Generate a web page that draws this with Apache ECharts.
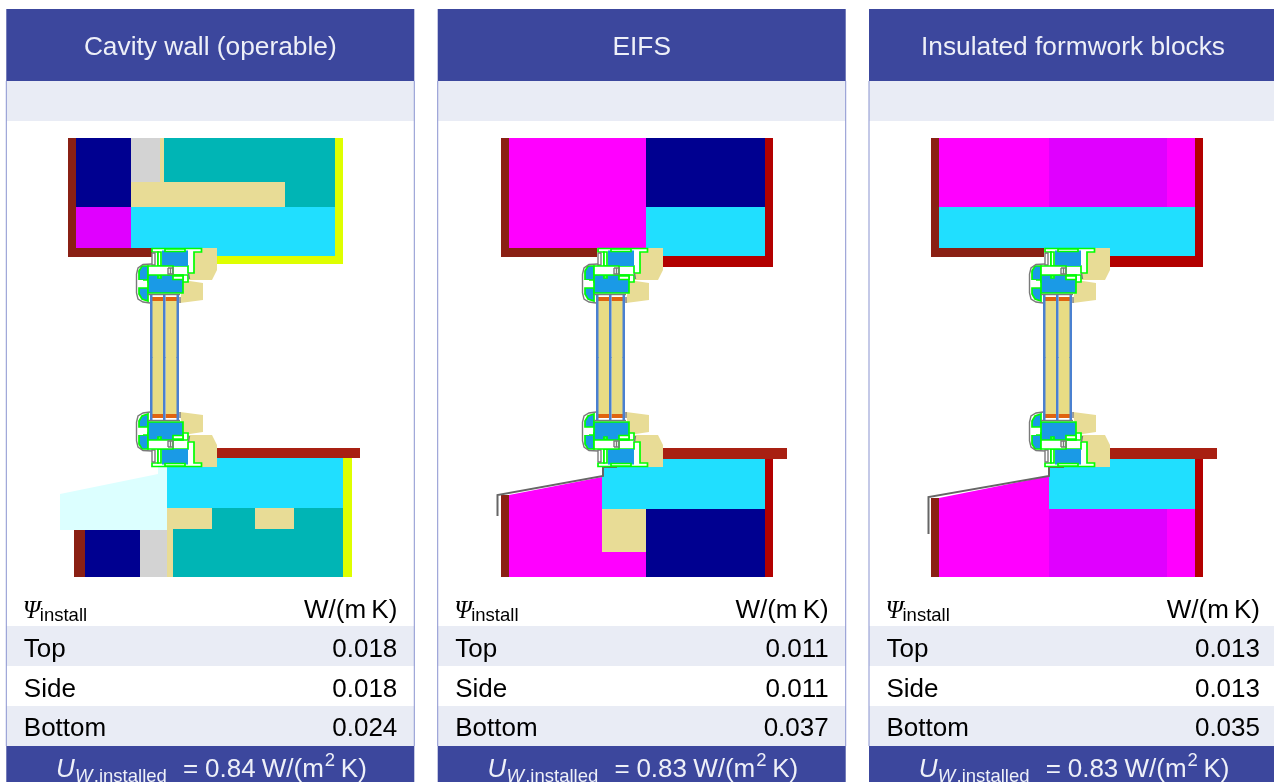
<!DOCTYPE html>
<html><head><meta charset="utf-8">
<style>html,body{margin:0;padding:0;background:#fff;overflow:hidden}#c{width:1274px;height:782px}</style>
<script src="https://cdn.jsdelivr.net/npm/echarts@6/dist/echarts.min.js"></script>
</head><body><div id="c"></div>
<script>
// ---- values and labels ----
const panelTitles = ['Cavity wall (operable)', 'EIFS', 'Insulated formwork blocks'];
const rowLabels = ['Top', 'Side', 'Bottom'];
const psiTop = ['0.018', '0.011', '0.013'];
const psiSide = ['0.018', '0.011', '0.013'];
const psiBottom = ['0.024', '0.037', '0.035'];
const uInstalled = ['0.84', '0.83', '0.83'];
const psiUnit = 'W/(m\u2009K)';

// ---- drawing geometry, in the reference's section coordinates: [material, x0,y0, x1,y1, ...] ----
const cavitySection = [
  ['brown',68,138,76,257], ['brown',76,248,152,257],
  ['navy',76,138,131,207], ['grey',131,138,160,182], ['tan',160,138,164,182],
  ['teal',164,138,335,182], ['teal',285,182,335,207], ['tan',131,182,285,207],
  ['violet',76,207,131,248], ['cyan',131,207,335,248], ['cyan',190,248,335,256],
  ['yellow',335,138,343,264], ['yellow',217,256,343,264],
  ['rust',216,448,360,458], ['cyan',199,458,343,467], ['cyan',167,467,343,508],
  ['yellow',343,458,352,577],
  ['ice',60,494,158,474,158,467,167,467,167,530,60,530],
  ['brown',74,530,85,577], ['navy',85,530,140,577], ['grey',140,530,167,577],
  ['teal',167,508,343,577], ['tan',167,529,173,577], ['tan',167,508,212,529], ['tan',255,508,294,529]
];
const eifsSection = [
  ['brown',501,138,509,257], ['brown',509,248,597,257],
  ['magenta',509,138,646,248], ['navy',646,138,765,207], ['cyan',646,207,765,256],
  ['red',765,138,773,267], ['red',663,256,773,267],
  ['rust',663,448,787,459], ['cyan',645,459,765,467], ['cyan',602,467,765,509],
  ['red',765,459,773,577], ['navy',646,509,765,577], ['tan',602,509,646,552],
  ['magenta',509,495,602,477,602,552,646,552,646,577,509,577],
  ['brown',501,495,509,495,509,577,501,577],
  ['steel',497.5,516,497.5,495,603,476,603,467,617,467]
];
const formworkSection = [
  ['brown',931,138,939,257], ['brown',939,248,1044,257],
  ['magenta',939,138,1195,207], ['violet',1049,138,1167,207],
  ['cyan',939,207,1195,248], ['cyan',1090,248,1195,256],
  ['red',1195,138,1203,267], ['red',1110,256,1203,267],
  ['rust',1110,448,1217,459], ['cyan',1090,459,1195,467], ['cyan',1049,467,1195,509],
  ['red',1195,459,1203,577], ['violet',1049,509,1167,577], ['magenta',1167,509,1195,577],
  ['magenta',939,498,1049,476,1049,577,939,577],
  ['brown',931,498,939,498,939,577,931,577],
  ['steel',928.5,534,928.5,497,1049,476,1049,467,1064,467]
];
// upper half of the window; the lower half is its reflection about the glazing centre
const windowCentreSum = 715;
const windowOffsets = [0, 446, 893];
const windowHalf = [
  ['tan',193,248,217,248,217,270,212,280,188,280],
  ['tan',183,280,203,283,203,300,180,303],
  ['frame',152,248.5,201.5,248.5,201.5,252,194,252,194,273,188,273,188,266,158,266,158,252,152,252],
  ['frame',158,252,161,252,161,266,158,266],
  ['blue',162,250.5,188,250.5,188,266,162,266],
  ['frame',165,249,185,249,185,251.5,165,251.5],
  ['line',152,253,155,253,155,265,152,265,152,253],
  ['blueFrame',148,266,142,266,139,271,139,280,148,280],
  ['white',137,280,143,280,143,288,137,288],
  ['blueFrame',139,288,148,288,148,301,142,299,139,294],
  ['line',152,264,143,264.5,138,268,136.5,274,136.5,293,138,299,143,302,150,303],
  ['frame',148,266,173,266,173,275,188,275,188,282,148,282],
  ['blueFrame',148,275,183,275,183,293,148,293],
  ['frame',158,276,161,276,161,278,158,278],
  ['frame',173,276,183,276,183,279.5,173,279.5],
  ['line',168,268,173,268,173,274,168,274,168,268],
  ['line',170.5,268,170.5,274],
  ['line',188.5,273,189.5,279],
  ['line',180,297,180,303],
  ['line',148,294.5,180,294.5],
  ['pane',152,301,163.5,358],
  ['pane',165.5,301,177,358],
  ['orange',152,297,163.5,301],
  ['orange',165.5,297,177,301],
  ['glassBar',150,295,152.5,358],
  ['glassBar',163,295,165.5,358],
  ['glassBar',176.5,295,179,358]
];
// ---- styles ----
const materials = {
  brown:{fill:'#8a2014'}, rust:{fill:'#a82012'}, red:{fill:'#b20000'},
  navy:{fill:'#000090'}, grey:{fill:'#d3d3d3'}, tan:{fill:'#e8dc96'},
  teal:{fill:'#00b5b5'}, violet:{fill:'#e000ff'}, magenta:{fill:'#ff00ff'},
  cyan:{fill:'#20dfff'}, yellow:{fill:'#deff00'}, ice:{fill:'#dcffff'},
  steel:{fill:'none',stroke:'#666666',lineWidth:2},
  frame:{fill:'#ffffff',stroke:'#00ff00',lineWidth:1.7},
  blue:{fill:'#1a9ae6'}, blueFrame:{fill:'#1a9ae6',stroke:'#00ff00',lineWidth:1.7},
  white:{fill:'#ffffff'}, line:{fill:'none',stroke:'#7a7a7a',lineWidth:1.4},
  pane:{fill:'#e8dc84'}, orange:{fill:'#e0640f'}, glassBar:{fill:'#4a80d0'}
};
const headerColor = '#3c479d', bandColor = '#e9ecf5', borderColor = '#8a93d0', headText = '#eef0f8';
const panelLeft = [6.3, 437.7, 869], panelWidth = 408;

// ---- build draw lists ----
const bands = [];
panelLeft.forEach(l => {
  [[9,81,headerColor],[81,121,bandColor],[626,666,bandColor],[706,746,bandColor],[746,782,headerColor]]
    .forEach(b => bands.push([l, b[0], l + panelWidth, b[1], b[2]]));
  bands.push([l - 0.5, 81, l + 0.5, 746, borderColor]);
  bands.push([l + panelWidth - 0.5, 81, l + panelWidth + 0.5, 746, borderColor]);
});
const shapes = [];
[cavitySection, eifsSection, formworkSection].forEach((sec, i) => {
  sec.forEach(s => shapes.push(s));
  windowHalf.forEach(p => {
    const up = p.slice(), down = p.slice();
    for (let k = 1; k < p.length; k += 2) {
      up[k] = p[k] + windowOffsets[i];
      down[k] = p[k] + windowOffsets[i];
      down[k + 1] = windowCentreSum - p[k + 1];
    }
    shapes.push(up); shapes.push(down);
  });
});
const SANS = '"Liberation Sans",Arial,sans-serif';
const texts = [];
function T(text, x, y, size, opt) {
  opt = opt || {};
  texts.push({text, x, y, font:(opt.style||'normal') + ' ' + size + 'px ' + (opt.family||SANS), align:opt.align||'left', fill:opt.fill||'#000'});
}
panelLeft.forEach((l, i) => {
  const right = l + 391;
  T(panelTitles[i], l + panelWidth / 2, 48, 26.3, {align:'center', fill:headText});
  T('\u03A8', l + 16.5, 611, 25, {style:'italic', family:'"Liberation Serif",serif'});
  T('install', l + 33.5, 615.5, 18.5);
  T(psiUnit, right, 611, 26, {align:'right'});
  [psiTop, psiSide, psiBottom].forEach((col, r) => {
    const y = 650 + r * 39.5;
    T(rowLabels[r], l + 17.5, y, 26);
    T(col[i], right, y, 26, {align:'right'});
  });
  T('U', l + 49.7, 770, 26, {style:'italic', fill:headText});
  T('W', l + 68.7, 777, 18.5, {style:'italic', fill:headText});
  T(',installed', l + 87.5, 777, 18.5, {fill:headText});
  T('=', l + 176.7, 770, 26, {fill:headText});
  T(uInstalled[i], l + 198.7, 770, 26, {fill:headText});
  T('W/(m', l + 255.5, 770, 26, {fill:headText});
  T('2', l + 318.5, 761, 18.5, {fill:headText});
  T('K)', l + 334.5, 770, 26, {fill:headText});
});

function polyItem(list) {
  return function (params, api) {
    const s = list[params.dataIndex], m = materials[s[0]], pts = [];
    for (let k = 1; k < s.length; k += 2) pts.push(api.coord([s[k], s[k + 1]]));
    const style = {fill: m.fill === 'none' ? null : m.fill, stroke: m.stroke || null, lineWidth: m.lineWidth || 0};
    if (pts.length === 2) {
      if (m.fill === 'none') return {type:'polyline', shape:{points:pts}, style};
      return {type:'rect', shape:{x:pts[0][0], y:Math.min(pts[0][1],pts[1][1]), width:pts[1][0]-pts[0][0], height:Math.abs(pts[1][1]-pts[0][1])}, style};
    }
    if (m.fill === 'none') return {type:'polyline', shape:{points:pts}, style};
    return {type:'polygon', shape:{points:pts}, style};
  };
}
const chart = echarts.init(document.getElementById('c'), null, {renderer:'canvas'});
chart.setOption({
  animation:false,
  backgroundColor:'#ffffff',
  grid:{left:0, right:0, top:0, bottom:0},
  xAxis:{type:'value', min:0, max:1274, show:false},
  yAxis:{type:'value', min:0, max:782, inverse:true, show:false},
  tooltip:{show:false},
  series:[
    {type:'custom', silent:true, coordinateSystem:'cartesian2d', z:1, clip:true,
     data:bands.map(b => [b[0], b[1]]), encode:{x:0, y:1},
     renderItem:(p, api) => {
       const b = bands[p.dataIndex], a = api.coord([b[0], b[1]]), c = api.coord([b[2], b[3]]);
       return {type:'rect', shape:{x:a[0], y:a[1], width:c[0]-a[0], height:c[1]-a[1]}, style:{fill:b[4]}};
     }},
    {type:'custom', silent:true, coordinateSystem:'cartesian2d', z:2, clip:true,
     data:shapes.map(s => [s[1], s[2]]), encode:{x:0, y:1}, renderItem:polyItem(shapes)},
    {type:'custom', silent:true, coordinateSystem:'cartesian2d', z:3, clip:false,
     data:texts.map(t => [t.x, t.y]), encode:{x:0, y:1},
     renderItem:(p, api) => {
       const t = texts[p.dataIndex], c = api.coord([t.x, t.y]);
       return {type:'text', style:{x:c[0], y:c[1], text:t.text, font:t.font, fill:t.fill, align:t.align, verticalAlign:'middle'}};
     }}
  ]
});
</script></body></html>
